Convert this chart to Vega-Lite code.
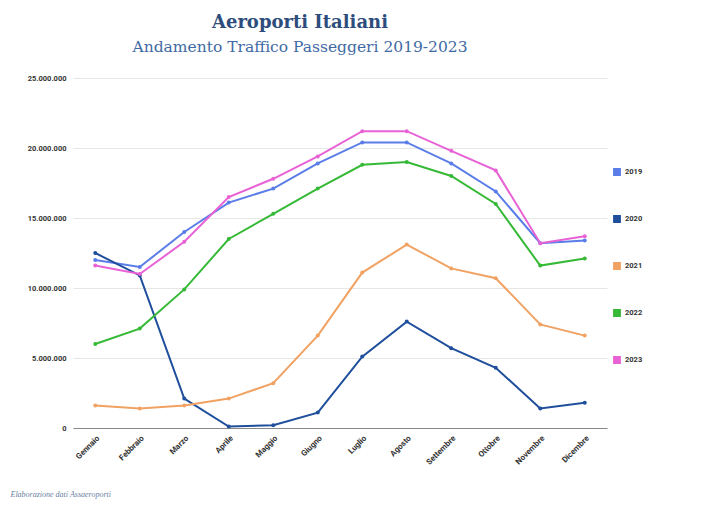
{
  "$schema": "https://vega.github.io/schema/vega-lite/v6.json",
  "width": 534,
  "height": 350,
  "padding": {"left": 10, "top": 13, "right": 5, "bottom": 5},
  "background": "white",
  "config": {
    "locale": {"number": {"decimal": ",", "thousands": ".", "grouping": [3], "currency": ["€", ""]}},
    "view": {"stroke": null},
    "font": "Roboto"
  },
  "title": {
    "text": "Aeroporti Italiani",
    "subtitle": "Andamento Traffico Passeggeri 2019-2023",
    "font": "DejaVu Serif",
    "fontSize": 18,
    "fontWeight": "bold",
    "color": "#2d4d7c",
    "subtitleFont": "DejaVu Serif",
    "subtitleFontSize": 15.5,
    "subtitleColor": "#3f6aa3",
    "subtitlePadding": 8,
    "anchor": "middle",
    "dx": -40,
    "offset": 19
  },
  "data": {
    "values": [
      {"mese": "Gennaio", "anno": "2019", "passeggeri": 12000000},
      {"mese": "Febbraio", "anno": "2019", "passeggeri": 11500000},
      {"mese": "Marzo", "anno": "2019", "passeggeri": 14000000},
      {"mese": "Aprile", "anno": "2019", "passeggeri": 16100000},
      {"mese": "Maggio", "anno": "2019", "passeggeri": 17100000},
      {"mese": "Giugno", "anno": "2019", "passeggeri": 18900000},
      {"mese": "Luglio", "anno": "2019", "passeggeri": 20400000},
      {"mese": "Agosto", "anno": "2019", "passeggeri": 20400000},
      {"mese": "Settembre", "anno": "2019", "passeggeri": 18900000},
      {"mese": "Ottobre", "anno": "2019", "passeggeri": 16900000},
      {"mese": "Novembre", "anno": "2019", "passeggeri": 13200000},
      {"mese": "Dicembre", "anno": "2019", "passeggeri": 13400000},
      {"mese": "Gennaio", "anno": "2020", "passeggeri": 12500000},
      {"mese": "Febbraio", "anno": "2020", "passeggeri": 10900000},
      {"mese": "Marzo", "anno": "2020", "passeggeri": 2100000},
      {"mese": "Aprile", "anno": "2020", "passeggeri": 100000},
      {"mese": "Maggio", "anno": "2020", "passeggeri": 200000},
      {"mese": "Giugno", "anno": "2020", "passeggeri": 1100000},
      {"mese": "Luglio", "anno": "2020", "passeggeri": 5100000},
      {"mese": "Agosto", "anno": "2020", "passeggeri": 7600000},
      {"mese": "Settembre", "anno": "2020", "passeggeri": 5700000},
      {"mese": "Ottobre", "anno": "2020", "passeggeri": 4300000},
      {"mese": "Novembre", "anno": "2020", "passeggeri": 1400000},
      {"mese": "Dicembre", "anno": "2020", "passeggeri": 1800000},
      {"mese": "Gennaio", "anno": "2021", "passeggeri": 1600000},
      {"mese": "Febbraio", "anno": "2021", "passeggeri": 1400000},
      {"mese": "Marzo", "anno": "2021", "passeggeri": 1600000},
      {"mese": "Aprile", "anno": "2021", "passeggeri": 2100000},
      {"mese": "Maggio", "anno": "2021", "passeggeri": 3200000},
      {"mese": "Giugno", "anno": "2021", "passeggeri": 6600000},
      {"mese": "Luglio", "anno": "2021", "passeggeri": 11100000},
      {"mese": "Agosto", "anno": "2021", "passeggeri": 13100000},
      {"mese": "Settembre", "anno": "2021", "passeggeri": 11400000},
      {"mese": "Ottobre", "anno": "2021", "passeggeri": 10700000},
      {"mese": "Novembre", "anno": "2021", "passeggeri": 7400000},
      {"mese": "Dicembre", "anno": "2021", "passeggeri": 6600000},
      {"mese": "Gennaio", "anno": "2022", "passeggeri": 6000000},
      {"mese": "Febbraio", "anno": "2022", "passeggeri": 7100000},
      {"mese": "Marzo", "anno": "2022", "passeggeri": 9900000},
      {"mese": "Aprile", "anno": "2022", "passeggeri": 13500000},
      {"mese": "Maggio", "anno": "2022", "passeggeri": 15300000},
      {"mese": "Giugno", "anno": "2022", "passeggeri": 17100000},
      {"mese": "Luglio", "anno": "2022", "passeggeri": 18800000},
      {"mese": "Agosto", "anno": "2022", "passeggeri": 19000000},
      {"mese": "Settembre", "anno": "2022", "passeggeri": 18000000},
      {"mese": "Ottobre", "anno": "2022", "passeggeri": 16000000},
      {"mese": "Novembre", "anno": "2022", "passeggeri": 11600000},
      {"mese": "Dicembre", "anno": "2022", "passeggeri": 12100000},
      {"mese": "Gennaio", "anno": "2023", "passeggeri": 11600000},
      {"mese": "Febbraio", "anno": "2023", "passeggeri": 11000000},
      {"mese": "Marzo", "anno": "2023", "passeggeri": 13300000},
      {"mese": "Aprile", "anno": "2023", "passeggeri": 16500000},
      {"mese": "Maggio", "anno": "2023", "passeggeri": 17800000},
      {"mese": "Giugno", "anno": "2023", "passeggeri": 19400000},
      {"mese": "Luglio", "anno": "2023", "passeggeri": 21200000},
      {"mese": "Agosto", "anno": "2023", "passeggeri": 21200000},
      {"mese": "Settembre", "anno": "2023", "passeggeri": 19800000},
      {"mese": "Ottobre", "anno": "2023", "passeggeri": 18400000},
      {"mese": "Novembre", "anno": "2023", "passeggeri": 13200000},
      {"mese": "Dicembre", "anno": "2023", "passeggeri": 13700000}
    ]
  },
  "encoding": {
    "x": {
      "field": "mese",
      "type": "ordinal",
      "sort": ["Gennaio", "Febbraio", "Marzo", "Aprile", "Maggio", "Giugno", "Luglio", "Agosto", "Settembre", "Ottobre", "Novembre", "Dicembre"],
      "scale": {"type": "point", "padding": 0.5},
      "axis": {
        "title": "Elaborazione dati Assaeroporti",
        "titleFont": "Liberation Serif",
        "titleFontStyle": "italic",
        "titleFontWeight": "normal",
        "titleFontSize": 8,
        "titleColor": "#6a80a3",
        "titleAnchor": "start",
        "titleAlign": "left",
        "titleX": -63,
        "titleY": 62,
        "labelAngle": -45,
        "labelFontSize": 8,
        "labelFontWeight": "bold",
        "labelColor": "#333333",
        "labelPadding": 6,
        "ticks": false,
        "domain": false,
        "grid": false
      }
    },
    "y": {
      "field": "passeggeri",
      "type": "quantitative",
      "scale": {"domain": [0, 25000000]},
      "axis": {
        "title": null,
        "values": [0, 5000000, 10000000, 15000000, 20000000, 25000000],
        "format": ",d",
        "labelFontSize": 7.5,
        "labelFontWeight": "bold",
        "labelColor": "#333333",
        "labelPadding": 7,
        "ticks": false,
        "domain": false,
        "gridColor": {"condition": {"test": "datum.value === 0", "value": "#888888"}, "value": "#e6e6e6"},
        "gridWidth": 1
      }
    },
    "color": {
      "field": "anno",
      "type": "nominal",
      "scale": {
        "domain": ["2019", "2020", "2021", "2022", "2023"],
        "range": ["#5a7de8", "#1f4f9c", "#f0a263", "#36b936", "#e862d6"]
      },
      "legend": {
        "title": null,
        "orient": "none",
        "legendX": 540,
        "legendY": 90,
        "symbolType": "square",
        "symbolSize": 40,
        "rowPadding": 33,
        "labelFontSize": 7.5,
        "labelFontWeight": "bold",
        "labelColor": "#333333"
      }
    }
  },
  "mark": {"type": "line", "strokeWidth": 2, "point": {"filled": true, "size": 16}}
}
